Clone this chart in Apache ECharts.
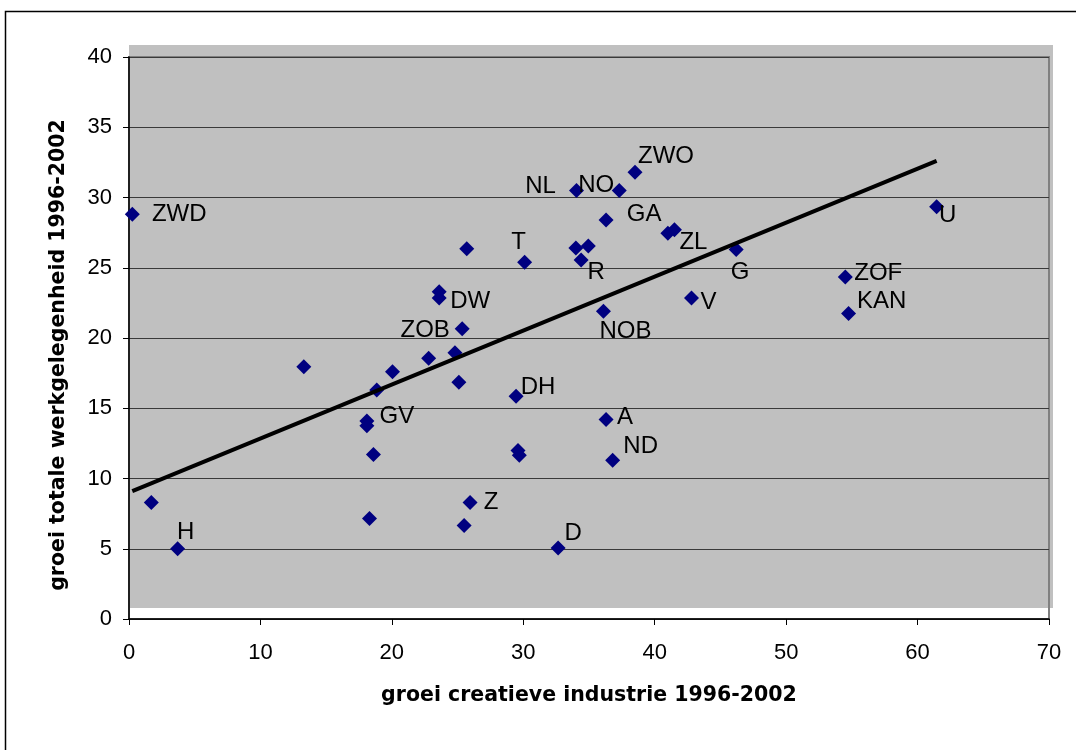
<!DOCTYPE html>
<html>
<head>
<meta charset="utf-8">
<script src="https://cdn.jsdelivr.net/npm/echarts/dist/echarts.min.js"></script>
<style>html,body{margin:0;padding:0;background:#fff}#c{width:1076px;height:750px}</style>
</head>
<body>
<div id="c"></div>
<script>
// ---- data ----
const regionNames = ['ZWD','','H','','GV','','','','','','','','DW','','','ZOB','','','Z','DH','','','T','D','NL','','R','','NOB','GA','A','ND','NO','ZWO','','ZL','V','G','ZOF','KAN','U'];
const creativeGrowth = [0.25,1.7,3.7,13.3,18.1,18.1,18.3,18.6,18.85,20.05,22.8,23.6,23.6,24.8,25.1,25.35,25.5,25.7,25.95,29.45,29.6,29.7,30.1,32.65,34.05,34.0,34.4,34.95,36.1,36.3,36.3,36.8,37.3,38.5,41.0,41.5,42.8,46.2,54.5,54.75,61.45];
const employmentGrowth = [28.8,8.3,5.0,17.95,14.1,13.75,7.15,11.7,16.3,17.6,18.55,23.3,22.85,18.95,16.85,20.65,6.65,26.35,8.3,15.85,12.0,11.65,25.4,5.05,30.5,26.4,25.55,26.55,21.9,28.4,14.2,11.3,30.5,31.8,27.45,27.7,22.85,26.3,24.35,21.75,29.35];
const trendX = [0.25, 61.45];
const trendY = [9.1, 32.6];
const xTicks = [0, 10, 20, 30, 40, 50, 60, 70];
const yTicks = [0, 5, 10, 15, 20, 25, 30, 35, 40];
const xTitle = 'groei creatieve industrie 1996-2002';
const yTitle = 'groei totale werkgelegenheid 1996-2002';

// ---- label placement (style only) ----
const labelOffsets = {
  ZWD:[47,0], H:[8,-16], GV:[30,-5], DW:[31,3], ZOB:[-37,2], Z:[21,0], DH:[22,-9],
  T:[-6,-20], D:[15,-15], NL:[-36,-4], R:[15,12], NOB:[22,20], GA:[38,-6], A:[19,-2],
  ND:[28,-14], NO:[-23,-5], ZWO:[31,-16], ZL:[19,13], G:[4,23], V:[17,4], ZOF:[33,-4],
  KAN:[33,-12], U:[11,9]
};

const scatterData = creativeGrowth.map((x, i) => {
  const name = regionNames[i];
  const item = { value: [x, employmentGrowth[i]], name: name };
  if (name) {
    item.label = { show: true, formatter: name, position: 'inside', offset: labelOffsets[name] || [20, 0] };
  }
  return item;
});
const trendData = trendX.map((x, i) => [x, trendY[i]]);

const chart = echarts.init(document.getElementById('c'));
chart.setOption({
  backgroundColor: '#ffffff',
  animation: false,
  graphic: [
    { type: 'rect', z: -100, silent: true, shape: { x: 5.5, y: 11.5, width: 1200, height: 900 },
      style: { fill: '#ffffff', stroke: '#000000', lineWidth: 1.5 } },
    { type: 'rect', z: -90, silent: true, shape: { x: 129, y: 45, width: 924, height: 563 },
      style: { fill: '#c0c0c0' } }
  ],
  grid: { left: 129, right: 27, top: 57, bottom: 131, show: true, borderColor: '#808080', borderWidth: 2, backgroundColor: 'transparent' },
  xAxis: {
    type: 'value', min: xTicks[0], max: xTicks[xTicks.length - 1], interval: xTicks[1] - xTicks[0],
    name: xTitle, nameLocation: 'middle', nameGap: 66,
    nameTextStyle: { fontFamily: 'DejaVu Sans', fontWeight: 'bold', fontSize: 20.5, color: '#000' },
    axisLine: { show: true, onZero: false, lineStyle: { color: '#000', width: 1.5 } },
    axisTick: { show: true, inside: false, length: 6, lineStyle: { color: '#000', width: 1 } },
    axisLabel: { fontFamily: 'Liberation Sans', fontSize: 22, color: '#000', margin: 23 },
    splitLine: { show: false }
  },
  yAxis: {
    type: 'value', min: yTicks[0], max: yTicks[yTicks.length - 1], interval: yTicks[1] - yTicks[0],
    name: yTitle, nameLocation: 'middle', nameGap: 60, nameRotate: 90,
    nameTextStyle: { fontFamily: 'DejaVu Sans', fontWeight: 'bold', fontSize: 20.5, color: '#000', padding: [0, 34, 0, 0] },
    axisLine: { show: true, onZero: false, lineStyle: { color: '#000', width: 1.5 } },
    axisTick: { show: true, inside: false, length: 6, lineStyle: { color: '#000', width: 1 } },
    axisLabel: { fontFamily: 'Liberation Sans', fontSize: 22, color: '#000', margin: 17 },
    splitLine: { show: true, lineStyle: { color: '#3a3a3a', width: 1 } }
  },
  series: [
    {
      type: 'scatter', symbol: 'diamond', symbolSize: 15,
      itemStyle: { color: '#000080', opacity: 1 },
      label: { show: false, fontFamily: 'Liberation Sans', fontSize: 24, color: '#000', align: 'center', verticalAlign: 'middle' },
      emphasis: { disabled: true },
      data: scatterData, z: 3
    },
    {
      type: 'line', data: trendData, symbol: 'none', z: 4,
      lineStyle: { color: '#000', width: 4 }, emphasis: { disabled: true }
    }
  ]
});
</script>
</body>
</html>
